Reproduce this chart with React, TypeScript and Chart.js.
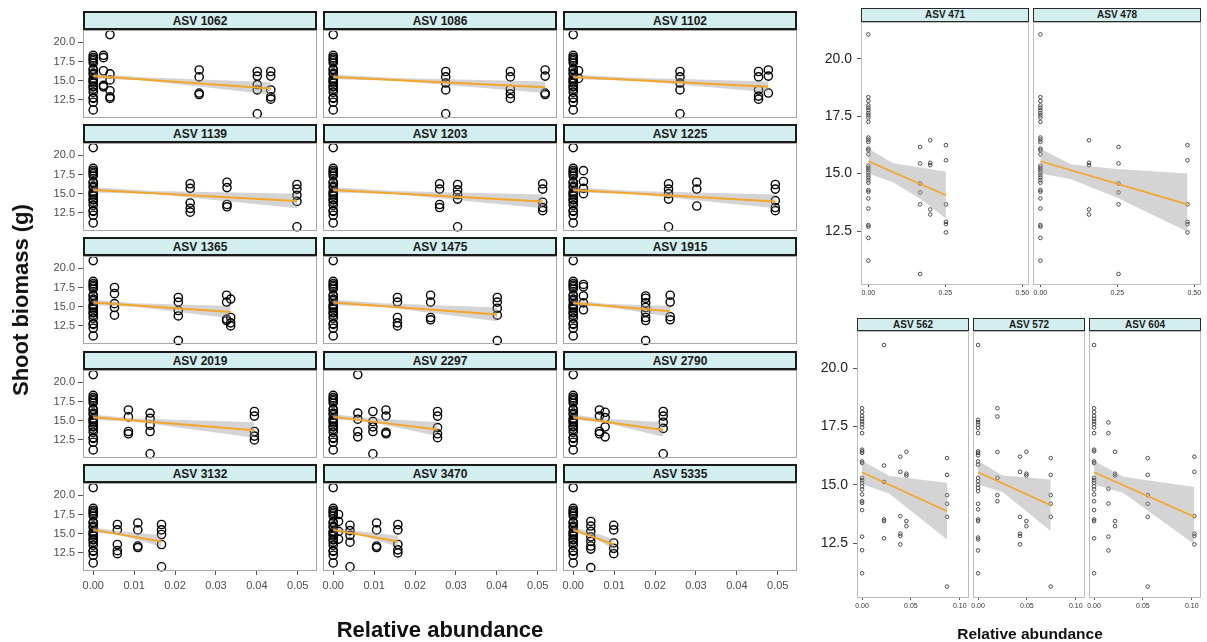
import React, { useEffect, useRef } from "react";
import { Chart, registerables } from "chart.js";
Chart.register(...registerables);

const FONT = "'Liberation Sans', Arial, Helvetica, sans-serif";

// ---------- axes ----------
const Y_TICKS = [12.5, 15, 17.5, 20];
const Y_RANGE = [10.15, 21.6];
const LEFT_X_TICKS = [0, 0.01, 0.02, 0.03, 0.04, 0.05];
const LEFT_X_RANGE = [-0.0025, 0.0547];
const TOP_RIGHT_X_TICKS = [0, 0.25, 0.5];
const TOP_RIGHT_X_RANGE = [-0.024, 0.522];
const BOTTOM_RIGHT_X_TICKS = [0, 0.05, 0.1];
const BOTTOM_RIGHT_X_RANGE = [-0.0052, 0.1095];

const Y_TITLE = "Shoot biomass (g)";
const X_TITLE = "Relative abundance";

// ---------- data: left block (x = relative abundance, y = shoot biomass) ----------
const LEFT_ZERO = [18.3, 18.0, 17.8, 17.6, 17.3, 16.5, 16.4, 16.0, 15.8, 15.3, 15.1, 14.9, 14.7, 14.3, 14.2, 13.9, 13.5, 12.8, 12.7, 12.2, 11.2];

const asv1062 = [
  { x: 0, y: LEFT_ZERO },
  { x: 0.0025, y: [18.3, 18.0, 16.3, 14.4, 14.2] },
  { x: 0.0041, y: [21.0, 15.9, 15.1, 13.7, 12.9, 12.7] },
  { x: 0.0259, y: [16.4, 15.5, 13.4, 13.2] },
  { x: 0.0401, y: [16.2, 15.6, 14.5, 13.8, 10.7] },
  { x: 0.0434, y: [16.2, 15.6, 13.8, 12.9, 12.6] },
];
const fit1062 = [[0, 15.6], [0.0434, 14.0]];
const band1062 = [[0, 15.25, 15.95], [0.012, 15.05, 15.45], [0.0434, 13.2, 14.8]];

const asv1086 = [
  { x: 0, y: [21.0] },
  { x: 0, y: LEFT_ZERO },
  { x: 0.0275, y: [16.2, 15.5, 14.7, 13.8, 10.7] },
  { x: 0.0433, y: [16.2, 15.5, 13.9, 13.3, 12.7] },
  { x: 0.0518, y: [16.4, 15.6, 13.4, 13.2] },
];
const fit1086 = [[0, 15.5], [0.0518, 14.15]];
const band1086 = [[0, 15.2, 15.8], [0.015, 15.0, 15.35], [0.0518, 13.4, 14.9]];

const asv1102 = [
  { x: 0, y: [21.0] },
  { x: 0, y: LEFT_ZERO },
  { x: 0.0013, y: [16.3, 15.3] },
  { x: 0.0261, y: [16.2, 15.5, 14.7, 13.8, 10.7] },
  { x: 0.0453, y: [16.2, 15.5, 13.8, 13.0, 12.6] },
  { x: 0.0477, y: [16.4, 15.6, 13.4] },
];
const fit1102 = [[0, 15.5], [0.0477, 14.2]];
const band1102 = [[0, 15.2, 15.8], [0.015, 15.0, 15.4], [0.0477, 13.5, 14.9]];

const asv1139 = [
  { x: 0, y: [21.0] },
  { x: 0, y: LEFT_ZERO },
  { x: 0.0237, y: [16.3, 15.7, 13.8, 13.1, 12.6] },
  { x: 0.0327, y: [16.5, 15.8, 13.6, 13.3] },
  { x: 0.0498, y: [16.2, 15.6, 14.8, 14.0, 10.7] },
];
const fit1139 = [[0, 15.5], [0.0498, 14.05]];
const band1139 = [[0, 15.15, 15.85], [0.015, 14.95, 15.35], [0.0498, 13.1, 15.0]];

const asv1203 = [
  { x: 0, y: [21.0] },
  { x: 0, y: LEFT_ZERO },
  { x: 0.026, y: [16.3, 15.6, 13.6, 13.2] },
  { x: 0.0304, y: [16.2, 15.5, 14.9, 14.3, 10.7] },
  { x: 0.0512, y: [16.3, 15.6, 13.9, 13.2, 12.8] },
];
const fit1203 = [[0, 15.5], [0.0512, 14.0]];
const band1203 = [[0, 15.15, 15.85], [0.015, 14.95, 15.35], [0.0512, 13.1, 14.9]];

const asv1225 = [
  { x: 0, y: [21.0] },
  { x: 0, y: LEFT_ZERO },
  { x: 0.0025, y: [18.0, 16.6, 15.7, 15.0] },
  { x: 0.0233, y: [16.3, 15.6, 15.0, 14.3, 10.7] },
  { x: 0.0302, y: [16.5, 15.6, 13.4] },
  { x: 0.0494, y: [16.2, 15.6, 14.1, 13.2, 12.8] },
];
const fit1225 = [[0, 15.5], [0.0494, 14.0]];
const band1225 = [[0, 15.15, 15.85], [0.015, 14.95, 15.35], [0.0494, 13.1, 14.9]];

const asv1365 = [
  { x: 0, y: [21.0] },
  { x: 0, y: LEFT_ZERO },
  { x: 0.0052, y: [17.5, 16.7, 15.4, 14.9, 13.9] },
  { x: 0.0208, y: [16.2, 15.6, 14.5, 13.8, 10.6] },
  { x: 0.0326, y: [16.5, 15.6, 13.4, 13.2] },
  { x: 0.0336, y: [16.0, 13.6, 12.9, 12.5] },
];
const fit1365 = [[0, 15.55], [0.0336, 14.3]];
const band1365 = [[0, 15.2, 15.9], [0.01, 15.0, 15.45], [0.0336, 13.5, 15.1]];

const asv1475 = [
  { x: 0, y: [21.0] },
  { x: 0, y: LEFT_ZERO },
  { x: 0.0157, y: [16.2, 15.6, 13.6, 12.9, 12.5] },
  { x: 0.0238, y: [16.5, 15.6, 13.6, 13.3] },
  { x: 0.0401, y: [16.2, 15.6, 14.8, 13.9, 10.6] },
];
const fit1475 = [[0, 15.55], [0.0401, 14.0]];
const band1475 = [[0, 15.2, 15.9], [0.012, 15.0, 15.45], [0.0401, 13.1, 14.9]];

const asv1915 = [
  { x: 0, y: [21.0] },
  { x: 0, y: LEFT_ZERO },
  { x: 0.0025, y: [17.9, 17.6, 16.4, 15.5, 14.6] },
  { x: 0.0177, y: [16.4, 16.1, 15.5, 14.9, 14.3, 13.6, 13.2, 10.6] },
  { x: 0.0237, y: [16.5, 15.6, 13.7, 13.3] },
];
const fit1915 = [[0, 15.5], [0.0237, 14.4]];
const band1915 = [[0, 15.15, 15.85], [0.008, 15.0, 15.4], [0.0237, 13.7, 15.1]];

const asv2019 = [
  { x: 0, y: [21.0] },
  { x: 0, y: LEFT_ZERO },
  { x: 0.0086, y: [16.4, 15.5, 13.6, 13.3] },
  { x: 0.0139, y: [16.0, 15.3, 14.4, 13.6, 10.7] },
  { x: 0.0394, y: [16.2, 15.6, 13.6, 13.0, 12.5] },
];
const fit2019 = [[0, 15.45], [0.0394, 13.75]];
const band2019 = [[0, 15.1, 15.8], [0.01, 14.9, 15.3], [0.0394, 12.8, 14.8]];

const asv2297 = [
  { x: 0, y: LEFT_ZERO },
  { x: 0.006, y: [21.0, 16.0, 15.2, 13.6, 12.9] },
  { x: 0.0097, y: [16.2, 14.9, 14.2, 13.6, 10.7] },
  { x: 0.0129, y: [16.4, 15.6, 13.5, 13.3] },
  { x: 0.0255, y: [16.2, 15.6, 14.1, 13.3, 12.8] },
];
const fit2297 = [[0, 15.5], [0.0255, 13.85]];
const band2297 = [[0, 15.15, 15.85], [0.008, 14.95, 15.4], [0.0255, 13.0, 14.8]];

const asv2790 = [
  { x: 0, y: [21.0] },
  { x: 0, y: LEFT_ZERO },
  { x: 0.0064, y: [16.4, 15.6, 13.6, 13.3] },
  { x: 0.0078, y: [16.1, 15.4, 14.2, 12.9] },
  { x: 0.022, y: [16.2, 15.6, 14.8, 14.0, 10.7] },
];
const fit2790 = [[0, 15.45], [0.022, 13.8]];
const band2790 = [[0, 15.1, 15.8], [0.007, 14.85, 15.3], [0.022, 12.9, 14.8]];

const asv3132 = [
  { x: 0, y: [21.0] },
  { x: 0, y: LEFT_ZERO },
  { x: 0.0059, y: [16.2, 15.5, 13.6, 12.8, 12.4] },
  { x: 0.0109, y: [16.4, 15.5, 13.4, 13.2] },
  { x: 0.0167, y: [16.2, 15.5, 14.9, 13.6, 10.7] },
];
const fit3132 = [[0, 15.5], [0.0167, 14.0]];
const band3132 = [[0, 15.15, 15.85], [0.006, 14.9, 15.35], [0.0167, 13.3, 14.8]];

const asv3470 = [
  { x: 0, y: [21.0] },
  { x: 0, y: LEFT_ZERO },
  { x: 0.0013, y: [17.5, 16.6, 15.3, 14.3] },
  { x: 0.0041, y: [16.1, 15.4, 14.8, 13.9, 10.7] },
  { x: 0.0106, y: [16.4, 15.5, 13.4, 13.2] },
  { x: 0.0158, y: [16.2, 15.5, 13.6, 12.9, 12.5] },
];
const fit3470 = [[0, 15.5], [0.0158, 14.0]];
const band3470 = [[0, 15.15, 15.85], [0.006, 14.9, 15.35], [0.0158, 13.3, 14.75]];

const asv5335 = [
  { x: 0, y: [21.0] },
  { x: 0, y: LEFT_ZERO },
  { x: 0.0043, y: [16.6, 16.0, 15.3, 14.6, 14.0, 13.4, 13.0, 10.6] },
  { x: 0.0099, y: [16.1, 15.5, 13.8, 13.1, 12.4] },
];
const fit5335 = [[0, 15.5], [0.0099, 13.6]];
const band5335 = [[0, 15.15, 15.85], [0.004, 14.9, 15.3], [0.0099, 12.9, 14.3]];

// ---------- data: right block ----------
const TOP_RIGHT_ZERO = [21.06, 18.33, 18.16, 17.97, 17.87, 17.76, 17.64, 17.54, 17.44, 17.25, 16.57, 16.48, 16.38, 16.09, 16.02, 15.84, 15.34, 15.25, 15.15, 15.05, 14.93, 14.83, 14.71, 14.6, 14.28, 14.21, 13.92, 13.48, 12.76, 12.69, 12.2, 11.21];

const asv471 = [
  { x: 0, y: TOP_RIGHT_ZERO },
  { x: 0.168, y: [16.16, 15.44, 14.57, 14.18, 13.66, 10.63] },
  { x: 0.201, y: [16.45, 15.47, 15.37, 13.44, 13.22] },
  { x: 0.252, y: [16.24, 15.58, 13.66, 12.9, 12.8, 12.44] },
];
const fit471 = [[0, 15.54], [0.252, 14.06]];
const band471 = [[0, 15.0, 16.09], [0.08, 14.62, 15.45], [0.175, 13.85, 15.25], [0.252, 13.05, 15.08]];

const asv478 = [
  { x: 0, y: TOP_RIGHT_ZERO },
  { x: 0.158, y: [16.45, 15.47, 15.37, 13.44, 13.22] },
  { x: 0.254, y: [16.16, 15.44, 14.57, 14.18, 13.66, 10.63] },
  { x: 0.478, y: [16.24, 15.58, 13.66, 12.9, 12.8, 12.44] },
];
const fit478 = [[0, 15.54], [0.478, 13.66]];
const band478 = [[0, 15.0, 16.09], [0.1, 14.75, 15.4], [0.25, 13.95, 15.2], [0.478, 12.47, 15.0]];

const asv562 = [
  { x: 0, y: [18.29, 18.12, 17.96, 17.83, 17.72, 17.61, 17.46, 17.22, 16.51, 16.44, 16.37, 16.01, 15.94, 15.3, 15.2, 15.09, 14.94, 14.8, 14.59, 14.3, 14.23, 13.92, 12.78, 12.2, 11.21] },
  { x: 0.0225, y: [21.0, 15.83, 15.13, 13.52, 13.45, 12.71] },
  { x: 0.0392, y: [16.21, 15.56, 13.66, 12.91, 12.81, 12.45] },
  { x: 0.0454, y: [16.42, 15.48, 15.4, 13.45, 13.23] },
  { x: 0.087, y: [16.15, 15.43, 14.56, 14.19, 13.63, 10.64] },
];
const fit562 = [[0, 15.54], [0.087, 13.87]];
const band562 = [[0, 15.04, 16.04], [0.028, 14.62, 15.38], [0.087, 12.66, 15.09]];

const asv572 = [
  { x: 0, y: [21.0, 17.79, 17.69, 17.58, 17.44, 17.22, 16.44, 16.37, 16.27, 16.01, 15.87, 15.3, 15.16, 15.01, 14.87, 14.73, 14.19, 13.95, 13.52, 13.45, 12.74, 12.66, 12.19, 11.21] },
  { x: 0.0198, y: [18.29, 17.93, 16.41, 15.3, 14.56, 14.3] },
  { x: 0.043, y: [16.21, 15.56, 13.63, 12.91, 12.81, 12.45] },
  { x: 0.0495, y: [16.42, 15.48, 15.4, 13.45, 13.23] },
  { x: 0.0744, y: [16.15, 15.43, 14.56, 14.19, 13.63, 10.64] },
];
const fit572 = [[0, 15.54], [0.0744, 14.13]];
const band572 = [[0, 15.02, 16.04], [0.025, 14.7, 15.4], [0.0744, 13.02, 15.23]];

const asv604 = [
  { x: 0, y: [21.0, 18.29, 18.12, 17.96, 17.83, 17.72, 17.61, 17.46, 17.22, 16.51, 16.44, 16.01, 15.94, 15.3, 15.2, 15.09, 14.94, 14.8, 14.59, 14.3, 13.92, 13.52, 13.45, 12.71, 11.21] },
  { x: 0.0147, y: [17.68, 17.22, 14.84, 14.2, 12.78, 12.19] },
  { x: 0.0215, y: [16.42, 15.48, 15.4, 13.45, 13.23] },
  { x: 0.0549, y: [16.15, 15.43, 14.56, 14.19, 13.63, 10.64] },
  { x: 0.1027, y: [16.21, 15.56, 13.66, 12.91, 12.81, 12.45] },
];
const fit604 = [[0, 15.54], [0.1027, 13.63]];
const band604 = [[0, 15.02, 16.04], [0.03, 14.65, 15.35], [0.1027, 12.45, 14.91]];

// ---------- panel lists ----------
const LEFT_NAMES = ["ASV 1062", "ASV 1086", "ASV 1102", "ASV 1139", "ASV 1203", "ASV 1225", "ASV 1365", "ASV 1475", "ASV 1915", "ASV 2019", "ASV 2297", "ASV 2790", "ASV 3132", "ASV 3470", "ASV 5335"];
const LEFT_GROUPS = [asv1062, asv1086, asv1102, asv1139, asv1203, asv1225, asv1365, asv1475, asv1915, asv2019, asv2297, asv2790, asv3132, asv3470, asv5335];
const LEFT_FITS = [fit1062, fit1086, fit1102, fit1139, fit1203, fit1225, fit1365, fit1475, fit1915, fit2019, fit2297, fit2790, fit3132, fit3470, fit5335];
const LEFT_BANDS = [band1062, band1086, band1102, band1139, band1203, band1225, band1365, band1475, band1915, band2019, band2297, band2790, band3132, band3470, band5335];

const TOP_RIGHT_NAMES = ["ASV 471", "ASV 478"];
const TOP_RIGHT_GROUPS = [asv471, asv478];
const TOP_RIGHT_FITS = [fit471, fit478];
const TOP_RIGHT_BANDS = [band471, band478];

const BOTTOM_RIGHT_NAMES = ["ASV 562", "ASV 572", "ASV 604"];
const BOTTOM_RIGHT_GROUPS = [asv562, asv572, asv604];
const BOTTOM_RIGHT_FITS = [fit562, fit572, fit604];
const BOTTOM_RIGHT_BANDS = [band562, band572, band604];

// ---------- styling ----------
const ORANGE = "#F3A62B";
const BAND_FILL = "rgba(153,153,153,0.42)";
const STRIP_FILL = "#d2eeee";

type Spec = {
  name: string;
  groups: { x: number; y: number[] }[];
  fit: number[][];
  band: number[][];
  xRange: number[];
  xTicks: number[];
  xDigits: number;
  plotLeft: number;
  plotTop: number;
  plotW: number;
  plotH: number;
  stripH: number;
  showY: boolean;
  showX: boolean;
  padL: number;
  padB: number;
  big: boolean;
};

const PAD_T = 8;
const PAD_R = 8;

function buildSpecs(): Spec[] {
  const specs: Spec[] = [];
  const lCols = [83, 323, 563];
  const lRows = [11, 124, 237, 351, 464];
  LEFT_NAMES.forEach((name, i) => {
    const c = i % 3, r = Math.floor(i / 3);
    specs.push({
      name, groups: LEFT_GROUPS[i], fit: LEFT_FITS[i], band: LEFT_BANDS[i],
      xRange: LEFT_X_RANGE, xTicks: LEFT_X_TICKS, xDigits: 2,
      plotLeft: lCols[c], plotTop: lRows[r] + 19, plotW: 234, plotH: 88, stripH: 19,
      showY: c === 0, showX: r === 4, padL: c === 0 ? 83 : 8, padB: r === 4 ? 26 : 6, big: true,
    });
  });
  const tCols = [861, 1033];
  TOP_RIGHT_NAMES.forEach((name, i) => {
    specs.push({
      name, groups: TOP_RIGHT_GROUPS[i], fit: TOP_RIGHT_FITS[i], band: TOP_RIGHT_BANDS[i],
      xRange: TOP_RIGHT_X_RANGE, xTicks: TOP_RIGHT_X_TICKS, xDigits: 2,
      plotLeft: tCols[i], plotTop: 22, plotW: 168, plotH: 263, stripH: 14,
      showY: i === 0, showX: true, padL: i === 0 ? 61 : 8, padB: 16, big: false,
    });
  });
  const bCols = [857, 973, 1089];
  BOTTOM_RIGHT_NAMES.forEach((name, i) => {
    specs.push({
      name, groups: BOTTOM_RIGHT_GROUPS[i], fit: BOTTOM_RIGHT_FITS[i], band: BOTTOM_RIGHT_BANDS[i],
      xRange: BOTTOM_RIGHT_X_RANGE, xTicks: BOTTOM_RIGHT_X_TICKS, xDigits: 2,
      plotLeft: bCols[i], plotTop: 331, plotW: 112, plotH: 267, stripH: 13,
      showY: i === 0, showX: true, padL: i === 0 ? 57 : 8, padB: 14, big: false,
    });
  });
  return specs;
}

const framePlugin = (color: string) => ({
  id: "frame",
  afterDatasetsDraw(chart: any) {
    const { ctx, chartArea: a } = chart;
    ctx.save();
    ctx.strokeStyle = color;
    ctx.lineWidth = 1;
    ctx.strokeRect(a.left + 0.5, a.top + 0.5, a.right - a.left - 1, a.bottom - a.top - 1);
    ctx.restore();
  },
});

function Panel({ s }: { s: Spec }) {
  const ref = useRef<HTMLCanvasElement>(null);
  const W = s.plotW + s.padL + PAD_R;
  const H = s.plotH + PAD_T + s.padB;
  useEffect(() => {
    const points = s.groups.flatMap((g) => g.y.map((y) => ({ x: g.x, y })));
    const yFont = s.big ? 11 : 14;
    const xFont = s.big ? 11 : 7;
    const chart = new Chart(ref.current as HTMLCanvasElement, {
      type: "line",
      data: {
        datasets: [
          { data: s.fit.map(([x, y]) => ({ x, y })), borderColor: ORANGE, borderWidth: s.big ? 2 : 1.6, pointRadius: 0, fill: false, order: 0 },
          { data: s.band.map(([x, , hi]) => ({ x, y: hi })), borderColor: "rgba(0,0,0,0)", borderWidth: 0, pointRadius: 0, backgroundColor: BAND_FILL, fill: "+1", order: 1 },
          { data: s.band.map(([x, lo]) => ({ x, y: lo })), borderColor: "rgba(0,0,0,0)", borderWidth: 0, pointRadius: 0, fill: false, order: 1 },
          {
            data: points, showLine: false, order: 2, clip: false,
            pointRadius: s.big ? 4.1 : 1.8,
            pointBorderWidth: s.big ? 1.4 : 0.9,
            pointBorderColor: s.big ? "#000" : "#3a3a3a",
            borderColor: s.big ? "#000" : "#3a3a3a",
            pointBackgroundColor: "rgba(0,0,0,0)",
            backgroundColor: "rgba(0,0,0,0)",
          },
        ],
      } as any,
      options: {
        responsive: false,
        animation: false,
        devicePixelRatio: 1,
        events: [],
        elements: { line: { tension: 0 } },
        layout: { padding: { left: 0, top: PAD_T, right: PAD_R, bottom: 0 } },
        plugins: { legend: { display: false }, tooltip: { enabled: false } },
        scales: {
          x: {
            type: "linear",
            min: s.xRange[0],
            max: s.xRange[1],
            afterBuildTicks: (sc: any) => { sc.ticks = s.xTicks.map((v) => ({ value: v })); },
            afterFit: (sc: any) => { sc.height = s.padB; sc.paddingLeft = 0; sc.paddingRight = 0; },
            grid: { display: s.showX, drawOnChartArea: false, drawTicks: true, tickLength: s.big ? 4 : 2, color: "#555" },
            border: { display: false },
            ticks: {
              display: s.showX, autoSkip: false, maxRotation: 0, padding: s.big ? 4 : 2,
              color: s.big ? "#4d4d4d" : "#333",
              font: { family: FONT, size: xFont },
              callback: (v: any) => Number(v).toFixed(s.xDigits),
            },
          },
          y: {
            type: "linear",
            min: Y_RANGE[0],
            max: Y_RANGE[1],
            afterBuildTicks: (sc: any) => { sc.ticks = Y_TICKS.map((v) => ({ value: v })); },
            afterFit: (sc: any) => { sc.width = s.padL; sc.paddingTop = 0; sc.paddingBottom = 0; },
            grid: { display: s.showY, drawOnChartArea: false, drawTicks: true, tickLength: s.big ? 5 : 4, color: "#555" },
            border: { display: false },
            ticks: {
              display: s.showY, padding: s.big ? 3 : 5,
              color: s.big ? "#4d4d4d" : "#222",
              font: { family: FONT, size: yFont },
              callback: (v: any) => Number(v).toFixed(1),
            },
          },
        },
      } as any,
      plugins: [framePlugin(s.big ? "#a8a8a8" : "#bdbdbd")],
    });
    return () => chart.destroy();
  }, []);
  return (
    <>
      <canvas
        ref={ref}
        width={W}
        height={H}
        style={{ position: "absolute", left: s.plotLeft - s.padL, top: s.plotTop - PAD_T, width: W, height: H }}
      />
      <div
        style={{
          position: "absolute",
          left: s.plotLeft,
          top: s.plotTop - s.stripH,
          width: s.plotW,
          height: s.stripH,
          boxSizing: "border-box",
          background: STRIP_FILL,
          border: s.big ? "2px solid #1a1a1a" : "1.5px solid #2a2a2a",
          fontFamily: FONT,
          fontWeight: "bold",
          fontSize: s.big ? 12 : 10,
          color: "#1a1a1a",
          display: "flex",
          alignItems: "center",
          justifyContent: "center",
          lineHeight: 1,
        }}
      >
        {s.name}
      </div>
    </>
  );
}

export default function App() {
  const specs = buildSpecs();
  return (
    <div style={{ position: "absolute", left: 0, top: 0, width: 1207, height: 642, background: "#fff", overflow: "hidden", fontFamily: FONT }}>
      {specs.map((s) => (
        <Panel key={s.name} s={s} />
      ))}
      <div
        style={{
          position: "absolute", left: 21, top: 300, transform: "translate(-50%, -50%) rotate(-90deg)",
          whiteSpace: "nowrap", fontWeight: "bold", fontSize: 22, lineHeight: 1, color: "#111",
        }}
      >
        {Y_TITLE}
      </div>
      <div
        style={{
          position: "absolute", left: 440, top: 630, transform: "translate(-50%, -50%)",
          whiteSpace: "nowrap", fontWeight: "bold", fontSize: 22, lineHeight: 1, color: "#111",
        }}
      >
        {X_TITLE}
      </div>
      <div
        style={{
          position: "absolute", left: 1030, top: 634, transform: "translate(-50%, -50%)",
          whiteSpace: "nowrap", fontWeight: "bold", fontSize: 15.5, lineHeight: 1, color: "#111",
        }}
      >
        {X_TITLE}
      </div>
    </div>
  );
}
